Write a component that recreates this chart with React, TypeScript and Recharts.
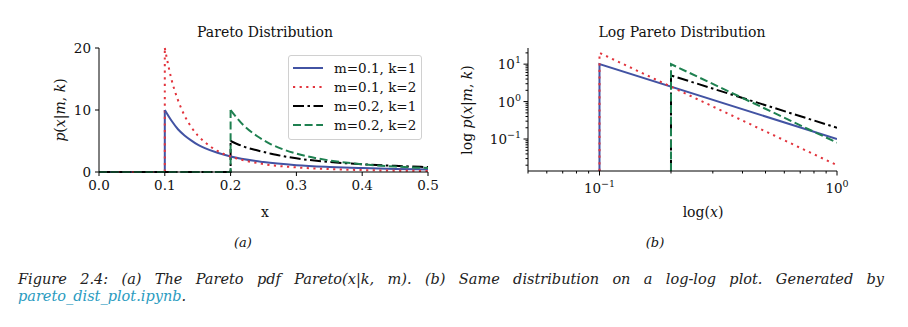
import React from 'react';
import { LineChart, Line, XAxis, YAxis } from 'recharts';

const FONT = '"DejaVu Serif", serif';

const seriesNames = ['m=0.1, k=1', 'm=0.1, k=2', 'm=0.2, k=1', 'm=0.2, k=2'];
const seriesColors = ['#4253a3', '#e2343d', '#000000', '#1e8050'];
const seriesDash = ['', '2.2 4.4', '11 3.5 2.5 3.5', '8 3.6'];

// (a) linear plot: flat part + jump, then the decaying tail
const stepX_m01 = [0, 0.1, 0.1];
const stepY_m01_k1 = [0, 0, 10];
const stepY_m01_k2 = [0, 0, 20];
const stepX_m02 = [0, 0.2, 0.2];
const stepY_m02_k1 = [0, 0, 5];
const stepY_m02_k2 = [0, 0, 10];

const tailX_m01 = [0.1, 0.11, 0.12, 0.13, 0.14, 0.15, 0.16, 0.18, 0.2, 0.25, 0.3, 0.35, 0.4, 0.45, 0.5];
const tailY_m01_k1 = [10, 8.3, 6.9, 5.9, 5.1, 4.4, 3.9, 3.1, 2.5, 1.6, 1.1, 0.82, 0.63, 0.49, 0.4];
const tailY_m01_k2 = [20, 15, 11.6, 9.1, 7.3, 5.9, 4.9, 3.4, 2.5, 1.28, 0.74, 0.47, 0.31, 0.22, 0.16];
const tailX_m02 = [0.2, 0.22, 0.24, 0.26, 0.28, 0.3, 0.35, 0.4, 0.45, 0.5];
const tailY_m02_k1 = [5, 4.1, 3.5, 3.0, 2.55, 2.2, 1.63, 1.25, 0.99, 0.8];
const tailY_m02_k2 = [10, 7.5, 5.8, 4.55, 3.64, 2.96, 1.87, 1.25, 0.88, 0.64];

// (b) log-log plot
const logX_m01 = [0.1, 0.1, 1];
const logY_m01_k1 = [0.014, 10, 0.1];
const logY_m01_k2 = [0.014, 20, 0.02];
const logX_m02 = [0.2, 0.2, 1];
const logY_m02_k1 = [0.014, 5, 0.2];
const logY_m02_k2 = [0.014, 10, 0.08];

const linXTicks = [0, 0.1, 0.2, 0.3, 0.4, 0.5];
const linYTicks = [0, 10, 20];
const logXMajor = [0.1, 1];
const logXTicks = [0.05, 0.06, 0.07, 0.08, 0.09, 0.1, 0.2, 0.3, 0.4, 0.5, 0.6, 0.7, 0.8, 0.9, 1];
const logYMajor = [0.1, 1, 10];
const logYTicks = [
  0.02, 0.03, 0.04, 0.05, 0.06, 0.07, 0.08, 0.09,
  0.1, 0.2, 0.3, 0.4, 0.5, 0.6, 0.7, 0.8, 0.9,
  1, 2, 3, 4, 5, 6, 7, 8, 9,
  10, 20,
];
const expLabel: Record<number, string> = { 0.1: '\u22121', 1: '0', 10: '1' };

const zip = (xs: number[], ys: number[]) => xs.map((x, i) => ({ x, y: ys[i] }));

const linSteps = [
  zip(stepX_m01, stepY_m01_k1),
  zip(stepX_m01, stepY_m01_k2),
  zip(stepX_m02, stepY_m02_k1),
  zip(stepX_m02, stepY_m02_k2),
];
const linTails = [
  zip(tailX_m01, tailY_m01_k1),
  zip(tailX_m01, tailY_m01_k2),
  zip(tailX_m02, tailY_m02_k1),
  zip(tailX_m02, tailY_m02_k2),
];
const logSeries = [
  zip(logX_m01, logY_m01_k1),
  zip(logX_m01, logY_m01_k2),
  zip(logX_m02, logY_m02_k1),
  zip(logX_m02, logY_m02_k2),
];

const tickStyle = { fontFamily: FONT, fontSize: 13.5, fill: '#111' };

const LogXTick = (props: any) => {
  const { x, y, payload } = props;
  const major = logXMajor.includes(payload.value);
  return (
    <g>
      <line x1={x} x2={x} y1={y} y2={y + (major ? 4.5 : 2.5)} stroke="#000" strokeWidth={1} />
      {major && (
        <text x={x} y={y + 22} textAnchor="middle" fontFamily={FONT} fontSize={13.5} fill="#111">
          <tspan>10</tspan>
          <tspan dy={-6} fontSize={9.5}>{expLabel[payload.value]}</tspan>
        </text>
      )}
    </g>
  );
};

const LogYTick = (props: any) => {
  const { x, y, payload } = props;
  const major = logYMajor.includes(payload.value);
  return (
    <g>
      <line x1={x} x2={x - (major ? 4.5 : 2.5)} y1={y} y2={y} stroke="#000" strokeWidth={1} />
      {major && (
        <text x={x - 7} y={y + 5} textAnchor="end" fontFamily={FONT} fontSize={13.5} fill="#111">
          <tspan>10</tspan>
          <tspan dy={-6} fontSize={9.5}>{expLabel[payload.value]}</tspan>
        </text>
      )}
    </g>
  );
};

const abs = (left: number, top: number, extra: React.CSSProperties = {}): React.CSSProperties => ({
  position: 'absolute',
  left,
  top,
  transform: 'translate(-50%, -50%)',
  whiteSpace: 'nowrap',
  fontFamily: FONT,
  fontSize: 14,
  color: '#111',
  ...extra,
});

const lines = (data: { x: number; y: number }[][], type: 'linear' | 'monotone', tag: string) =>
  data.map((pts, i) => (
    <Line
      key={tag + seriesNames[i]}
      data={pts}
      dataKey="y"
      type={type}
      stroke={seriesColors[i]}
      strokeWidth={2}
      strokeDasharray={seriesDash[i] || undefined}
      dot={false}
      activeDot={false}
      isAnimationActive={false}
    />
  ));

export default function App() {
  return (
    <div style={{ position: 'absolute', left: 0, top: 0, width: 908, height: 327, background: '#fff', overflow: 'hidden' }}>
      {/* (a) Pareto Distribution */}
      <div style={{ position: 'absolute', left: 0, top: 0 }}>
        <LineChart width={440} height={200} margin={{ top: 48, right: 12, bottom: 0, left: 0 }}>
          <XAxis
            dataKey="x"
            type="number"
            domain={[0, 0.5]}
            ticks={linXTicks}
            interval={0}
            tickFormatter={(v: number) => v.toFixed(1)}
            height={28}
            tickSize={4}
            tickMargin={4}
            stroke="#000"
            tick={tickStyle}
          />
          <YAxis
            type="number"
            domain={[0, 20]}
            ticks={linYTicks}
            interval={0}
            width={99}
            tickSize={4}
            tickMargin={4}
            stroke="#000"
            tick={tickStyle}
          />
          {lines(linSteps, 'linear', 'step')}
          {lines(linTails, 'monotone', 'tail')}
        </LineChart>
      </div>

      {/* (b) Log Pareto Distribution */}
      <div style={{ position: 'absolute', left: 440, top: 0 }}>
        <LineChart width={468} height={200} margin={{ top: 48, right: 71, bottom: 0, left: 0 }}>
          <XAxis
            dataKey="x"
            type="number"
            scale="log"
            domain={[0.05, 1]}
            allowDataOverflow
            ticks={logXTicks}
            interval={0}
            height={29}
            tickSize={0}
            tickMargin={0}
            stroke="#000"
            tick={<LogXTick />}
          />
          <YAxis
            type="number"
            scale="log"
            domain={[0.014, 27]}
            allowDataOverflow
            ticks={logYTicks}
            interval={0}
            width={88}
            tickSize={0}
            tickMargin={0}
            stroke="#000"
            tick={<LogYTick />}
          />
          {lines(logSeries, 'linear', 'log')}
        </LineChart>
      </div>

      {/* titles and axis labels */}
      <div style={abs(265, 32)}>Pareto Distribution</div>
      <div style={abs(682, 32)}>Log Pareto Distribution</div>
      <div style={abs(265, 212)}>x</div>
      <div style={abs(703, 212)}>log(<i>x</i>)</div>
      <div style={abs(60, 110, { transform: 'translate(-50%, -50%) rotate(-90deg)' })}>
        <i>p</i>(<i>x</i>|<i>m</i>, <i>k</i>)
      </div>
      <div style={abs(467, 110, { transform: 'translate(-50%, -50%) rotate(-90deg)' })}>
        log <i>p</i>(<i>x</i>|<i>m</i>, <i>k</i>)
      </div>

      {/* legend */}
      <div
        style={{
          position: 'absolute',
          left: 288,
          top: 55,
          width: 134,
          height: 85,
          boxSizing: 'border-box',
          border: '1px solid #d0d0d0',
          borderRadius: 3,
          background: 'rgba(255,255,255,0.85)',
        }}
      >
        {seriesNames.map((name, i) => (
          <div key={name} style={{ position: 'absolute', left: 4, top: 3 + i * 19, height: 18, display: 'flex', alignItems: 'center' }}>
            <svg width={30} height={8}>
              <line x1={0} x2={30} y1={4} y2={4} stroke={seriesColors[i]} strokeWidth={2} strokeDasharray={seriesDash[i] || undefined} />
            </svg>
            <span style={{ marginLeft: 11, fontFamily: FONT, fontSize: 13.5, color: '#111' }}>{name}</span>
          </div>
        ))}
      </div>

      {/* sub-captions */}
      <div style={abs(243, 242, { fontStyle: 'italic', fontSize: 13 })}>(a)</div>
      <div style={abs(655, 242, { fontStyle: 'italic', fontSize: 13 })}>(b)</div>

      {/* figure caption */}
      <div
        style={{
          position: 'absolute',
          left: 18,
          top: 269,
          width: 866,
          fontFamily: FONT,
          fontSize: 14.5,
          fontStyle: 'italic',
          color: '#222',
          textAlign: 'justify',
          textAlignLast: 'justify',
          lineHeight: '20px',
        }}
      >
        Figure 2.4: (a) The Pareto pdf Pareto(x|k, m). (b) Same distribution on a log-log plot. Generated by
      </div>
      <div
        style={{
          position: 'absolute',
          left: 18,
          top: 286,
          fontFamily: FONT,
          fontSize: 14.5,
          fontStyle: 'italic',
          color: '#222',
          lineHeight: '20px',
          whiteSpace: 'nowrap',
        }}
      >
        <span style={{ color: '#2a9bbf' }}>pareto_dist_plot.ipynb</span>.
      </div>
    </div>
  );
}
